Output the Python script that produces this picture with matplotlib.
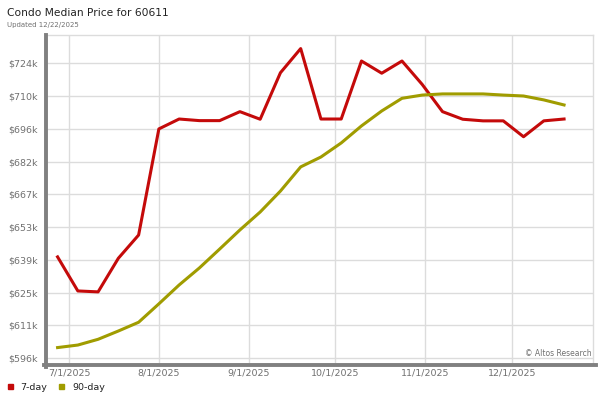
import datetime as dt
import matplotlib
matplotlib.use("Agg")
import matplotlib.pyplot as plt
import matplotlib.dates as mdates
from matplotlib.lines import Line2D

# weekly data points (Fridays), values in $k
start = dt.date(2025, 6, 27)
dates = [start + dt.timedelta(days=7 * i) for i in range(26)]

price_7day = [640.3, 625.5, 625.1, 639.7, 649.8, 695.9, 700.2, 699.5, 699.5, 703.4,
              700.1, 720.3, 730.8, 700.2, 700.2, 725.4, 720.1, 725.4, 715.2, 703.4,
              700.1, 699.4, 699.4, 692.5, 699.4, 700.2]
price_90day = [600.9, 602.0, 604.5, 608.1, 611.9, 619.9, 628.1, 635.5, 643.7, 652.0,
               659.8, 668.9, 679.4, 683.7, 689.8, 697.2, 703.7, 709.2, 710.6, 711.1,
               711.1, 711.1, 710.6, 710.2, 708.5, 706.3]

y_ticks = [596.4, 610.6, 624.8, 639.1, 653.3, 667.5, 681.7, 695.9, 710.2, 724.4]
y_labels = ["$596k", "$611k", "$625k", "$639k", "$653k", "$667k", "$682k",
            "$696k", "$710k", "$724k"]
x_ticks = [dt.date(2025, m, 1) for m in range(7, 13)]
x_labels = ["7/1/2025", "8/1/2025", "9/1/2025", "10/1/2025", "11/1/2025", "12/1/2025"]

red = "#c40a0a"
olive = "#a09c00"
grey_txt = "#707070"

fig = plt.figure(figsize=(6, 4), dpi=100)
ax = fig.add_axes([46 / 600, 37 / 400, 547 / 600, 328 / 400])

ax.plot(dates, price_7day, color=red, lw=2.2, zorder=3)
ax.plot(dates, price_90day, color=olive, lw=2.2, zorder=3)

ax.set_ylim(594.2, 736.7)
ax.set_xlim(dt.date(2025, 7, 1) - dt.timedelta(days=8.1),
            dt.date(2025, 7, 1) + dt.timedelta(days=181.0))

ax.set_yticks(y_ticks)
ax.set_yticklabels(y_labels)
ax.set_xticks([mdates.date2num(d) for d in x_ticks])
ax.set_xticklabels(x_labels)
ax.tick_params(axis="both", length=0, labelsize=6.8, colors=grey_txt)
ax.tick_params(axis="y", pad=6)
ax.tick_params(axis="x", pad=4)

ax.grid(True, color="#dcdcdc", lw=1)
ax.set_axisbelow(True)
for s in ["top", "right"]:
    ax.spines[s].set_color("#dcdcdc")
    ax.spines[s].set_linewidth(1)
ax.spines["left"].set_visible(False)
ax.spines["bottom"].set_visible(False)

# thick grey frame lines on the left and bottom
fig.add_artist(Line2D([45.5 / 600, 45.5 / 600], [365 / 400, 33 / 400],
                      color="#808080", lw=2.8, transform=fig.transFigure))
fig.add_artist(Line2D([44 / 600, 596 / 600], [35 / 400, 35 / 400],
                      color="#808080", lw=2.8, transform=fig.transFigure))

fig.text(7 / 600, 1 - 13 / 400, "Condo Median Price for 60611", fontsize=7.7,
         color="#222222", va="center")
fig.text(7 / 600, 1 - 25 / 400, "Updated 12/22/2025", fontsize=5, color=grey_txt,
         va="center")
ax.text(0.997, 0.03, "© Altos Research", transform=ax.transAxes, fontsize=5.5,
        color=grey_txt, ha="right", va="center")

# legend
fig.patches.append(plt.Rectangle((8 / 600, 1 - 389 / 400), 5 / 600, 5 / 400,
                                 color=red, transform=fig.transFigure))
fig.text(20 / 600, 1 - 387 / 400, "7-day", fontsize=6.8, color="#222222", va="center")
fig.patches.append(plt.Rectangle((59 / 600, 1 - 389 / 400), 5 / 600, 5 / 400,
                                 color=olive, transform=fig.transFigure))
fig.text(72 / 600, 1 - 387 / 400, "90-day", fontsize=6.8, color="#222222", va="center")

fig.savefig("out.png", dpi=100)
